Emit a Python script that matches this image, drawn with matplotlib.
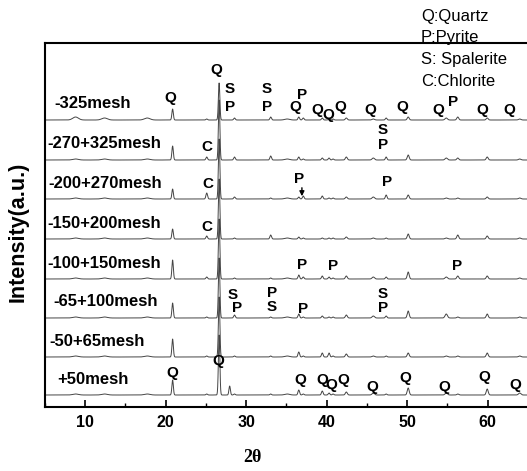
import numpy as np
import matplotlib
matplotlib.use('Agg')
import matplotlib.pyplot as plt
from matplotlib.ticker import MultipleLocator

plt.rcParams['font.family'] = ['Liberation Sans', 'DejaVu Sans']

# sample labels, top to bottom
samples = ['-325mesh', '-270+325mesh', '-200+270mesh', '-150+200mesh',
           '-100+150mesh', '-65+100mesh', '-50+65mesh', '+50mesh']
label_x = [6.2, 5.25, 5.4, 5.25, 5.25, 6.0, 5.5, 6.5]

# reflection positions (2theta, deg) and profile widths
peak_pos = [8.8, 12.4, 17.7, 20.86, 25.1, 26.64, 27.95, 28.55, 33.05, 35.1, 36.54, 37.1,
            39.46, 40.3, 40.8, 42.45, 45.8, 47.4, 50.14, 54.87, 56.3, 59.96, 64.0]
peak_wid = [0.35, 0.35, 0.35, 0.09, 0.1, 0.09, 0.09, 0.1, 0.1, 0.3, 0.1, 0.1,
            0.1, 0.1, 0.1, 0.12, 0.15, 0.1, 0.12, 0.15, 0.12, 0.12, 0.15]

# peak heights (a.u.), one list per sample, same order as peak_pos
h_325 = [3, 2, 2, 11, 1, 37, 0, 2, 3, 1, 3, 2, 2, 1, 1, 2, 1, 2, 3, 2, 3, 2, 1]
h_270_325 = [1, 1, 1, 14, 3, 60, 0, 3, 4, 1, 3, 1, 2, 2, 1, 3, 2, 3, 5, 2, 2, 3, 1]
h_200_270 = [1, 1, 1, 10, 6, 60, 0, 2, 1, 1, 2, 3, 3, 1, 1, 2, 2, 4, 4, 1, 1, 2, 1]
h_150_200 = [1, 1, 1, 10, 3, 60, 0, 1, 4, 1, 2, 1, 1, 1, 1, 2, 1, 1, 5, 1, 4, 3, 1]
h_100_150 = [1, 1, 1, 19, 2, 60, 0, 1, 1, 1, 4, 2, 3, 2, 1, 3, 2, 2, 7, 2, 3, 3, 1]
h_65_100 = [1, 1, 1, 15, 1, 60, 0, 3, 1, 1, 4, 1, 2, 1, 1, 3, 2, 2, 7, 4, 1, 4, 1]
h_50_65 = [1, 1, 1, 18, 1, 60, 0, 1, 1, 1, 5, 1, 4, 4, 1, 3, 1, 1, 4, 1, 1, 4, 1]
h_50 = [1, 1, 1, 15, 1, 60, 9, 1, 1, 1, 5, 1, 4, 2, 1, 3, 2, 1, 7, 2, 1, 6, 2]
heights = [h_325, h_270_325, h_200_270, h_150_200, h_100_150, h_65_100, h_50_65, h_50]

# baseline of each pattern (a.u.)
baselines = [287, 247, 208, 168, 128, 89, 50, 12]

# phase marks: (letter, 2theta, intensity)
marks = [('Q', 20.53, 309), ('Q', 26.24, 337), ('S', 27.98, 318), ('P', 27.98, 300),
         ('S', 32.58, 318), ('P', 32.58, 300), ('P', 36.93, 312), ('Q', 36.06, 300),
         ('Q', 38.79, 297), ('Q', 40.16, 292), ('Q', 41.65, 300), ('Q', 45.37, 297),
         ('Q', 49.35, 300), ('Q', 53.94, 297), ('P', 55.68, 305), ('Q', 59.29, 297),
         ('Q', 62.76, 297),
         ('C', 25.12, 260), ('S', 46.99, 277), ('P', 46.99, 262),
         ('C', 25.25, 223), ('P', 36.55, 228), ('P', 47.48, 225),
         ('C', 25.12, 180),
         ('P', 36.93, 142), ('P', 40.78, 141), ('P', 56.18, 141),
         ('S', 28.35, 112), ('P', 28.85, 99), ('P', 33.2, 114), ('S', 33.2, 100),
         ('P', 37.05, 98), ('S', 47.0, 113), ('P', 47.0, 99),
         ('Q', 20.78, 34), ('Q', 26.49, 46), ('Q', 36.68, 27), ('Q', 39.41, 27),
         ('Q', 40.53, 22), ('Q', 42.02, 27), ('Q', 45.62, 20), ('Q', 49.84, 29),
         ('Q', 54.57, 20), ('Q', 59.66, 30), ('Q', 63.39, 22)]

legend_lines = ['Q:Quartz', 'P:Pyrite', 'S: Spalerite', 'C:Chlorite']

fig = plt.figure(figsize=(5.27, 4.71), dpi=100)
ax = fig.add_axes([45 / 527, 64 / 471, 523 / 527, 364 / 471])

tt = np.arange(5, 70, 0.02)
for name, lx, h, base in zip(samples, label_x, heights, baselines):
    y = np.full_like(tt, base, dtype=float)
    for p, w, a in zip(peak_pos, peak_wid, h):
        y += a * np.exp(-0.5 * ((tt - p) / w) ** 2)
    ax.plot(tt, y, color='#444444', lw=0.7)
    ax.text(lx, base + 16, name, fontsize=12, fontweight='bold', va='center', ha='left')

for lab, x, yv in marks:
    ax.text(x, yv, lab, fontsize=11, fontweight='bold', ha='center', va='center')

ax.annotate('', xy=(36.93, 208), xytext=(36.93, 222),
            arrowprops=dict(arrowstyle='-|>', color='black', lw=1, mutation_scale=7))

ax.set_xlim(5, 70)
ax.set_ylim(0, 364)
ax.set_yticks([])
ax.set_xticks([10, 20, 30, 40, 50, 60])
ax.xaxis.set_minor_locator(MultipleLocator(5))
ax.tick_params(axis='x', which='major', direction='in', length=5, width=1.2, pad=6,
               labelsize=11.5)
ax.tick_params(axis='x', which='minor', direction='in', length=3, width=1)
for lbl in ax.get_xticklabels():
    lbl.set_fontweight('bold')
for s in ax.spines.values():
    s.set_linewidth(1.5)

for i, t in enumerate(legend_lines):
    fig.text(421 / 527, 1 - (16 + i * 21.7) / 471, t, fontsize=12, va='center', ha='left')

fig.text(18 / 527, 1 - 232 / 471, 'Intensity(a.u.)', rotation=90, fontsize=15.5,
         fontweight='bold', va='center', ha='center')
fig.text(252 / 527, 1 - 458 / 471, '2θ', fontsize=13, family=['Liberation Serif', 'DejaVu Serif'],
         fontweight='bold', va='center', ha='center')

fig.savefig('out.png', dpi=100)
